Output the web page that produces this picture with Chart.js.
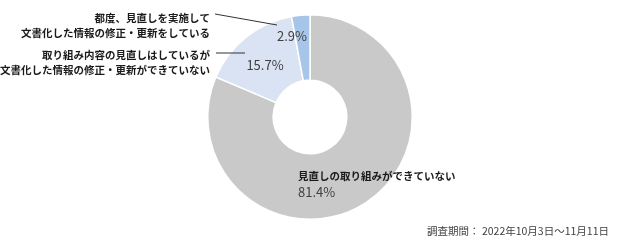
<!DOCTYPE html>
<html><head><meta charset="utf-8">
<script src="https://cdn.jsdelivr.net/npm/chart.js@4"></script>
<style>html,body{margin:0;padding:0;background:#fff;}#wrap{width:618px;height:245px;position:relative;}</style>
</head><body><div id="wrap"><canvas id="c" width="618" height="245"></canvas></div>
<script>
const categories = [
  "見直しの取り組みができていない",
  "取り組み内容の見直しはしているが\n文書化した情報の修正・更新ができていない",
  "都度、見直しを実施して\n文書化した情報の修正・更新をしている"
];
const values = [81.4, 15.7, 2.9];
const colors = ["#C9C9C9", "#DAE3F3", "#A7C5E8"];
const footnote = "調査期間： 2022年10月3日～11月11日";

const JP = '"Noto Sans CJK JP", "Noto Sans", sans-serif';

const labelPlugin = {
  id: 'labels',
  afterDraw(chart) {
    const ctx = chart.ctx;
    const arcs = chart.getDatasetMeta(0).data;
    const cx = arcs[0].x, cy = arcs[0].y;
    const R = arcs[0].outerRadius;
    ctx.save();
    ctx.textBaseline = 'middle';
    // percentage labels
    ctx.fillStyle = '#404040';
    ctx.font = '13px ' + JP;
    ctx.textAlign = 'center';
    const pct = v => v.toFixed(1) + '%';
    // slice 2 (2.9%)
    ctx.fillText(pct(values[2]), cx - 18, cy - 81);
    // slice 1 (15.7%)
    ctx.fillText(pct(values[1]), cx - 45, cy - 52);
    // slice 0
    ctx.textAlign = 'left';
    ctx.fillText(pct(values[0]), cx - 12, cy + 75);
    ctx.fillStyle = '#1a1a1a';
    ctx.font = 'bold 10.5px ' + JP;
    ctx.fillText(categories[0], cx - 12, cy + 59);

    // left labels
    ctx.textAlign = 'right';
    const l2 = categories[2].split('\n');
    ctx.fillText(l2[0], cx - 100, cy - 99);
    ctx.fillText(l2[1], cx - 100, cy - 84);
    const l1 = categories[1].split('\n');
    ctx.fillText(l1[0], cx - 100, cy - 62);
    ctx.fillText(l1[1], cx - 100, cy - 47);

    // leader lines
    ctx.strokeStyle = '#333';
    ctx.lineWidth = 1;
    ctx.beginPath();
    ctx.moveTo(cx - 95, cy - 103);
    ctx.lineTo(cx - 33, cy - 92);
    ctx.moveTo(cx - 94, cy - 64);
    ctx.lineTo(cx - 65, cy - 64);
    ctx.stroke();

    // footnote
    ctx.fillStyle = '#404040';
    ctx.font = '10.5px ' + JP;
    ctx.textAlign = 'right';
    ctx.fillText(footnote, 609, 231);
    ctx.restore();
  }
};

new Chart(document.getElementById('c'), {
  type: 'doughnut',
  data: {
    labels: categories,
    datasets: [{
      data: values,
      backgroundColor: colors,
      borderColor: '#ffffff',
      borderWidth: 1.5
    }]
  },
  options: {
    responsive: false,
    animation: false,
    cutout: '36%',
    rotation: 0,
    layout: { padding: { left: 207, right: 205, top: 14, bottom: 25 } },
    plugins: { legend: { display: false }, tooltip: { enabled: false } }
  },
  plugins: [labelPlugin]
});
</script>
</body></html>
